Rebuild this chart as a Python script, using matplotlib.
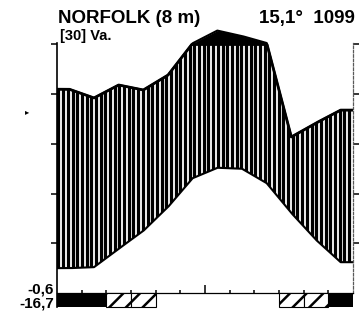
"""
Walter-Lieth Klimadiagramm: Norfolk (8 m)
"""
import numpy as np
import matplotlib
matplotlib.use('Agg')
import matplotlib.pyplot as plt

plt.rcParams['font.family'] = ['Liberation Sans', 'DejaVu Sans']
plt.rcParams['hatch.linewidth'] = 1.8

# 站点信息
station = 'NORFOLK (8 m)'
header_right = '15,1°  1099'
years_label = '[30] Va.'
low_labels = ['-0,6', '-16,7']

# 月均温 (°C) 和月降水 (mm)
months = ['J', 'F', 'M', 'A', 'M', 'J', 'J', 'A', 'S', 'O', 'N', 'D']
temp = [5.0, 5.2, 8.9, 12.5, 17.3, 23.1, 25.2, 25.0, 22.1, 16.1, 10.7, 6.2]
precip = [82, 78.5, 83.7, 81.7, 87.7, 105, 156, 134, 106, 62.8, 68.4, 73.6]

# 霜冻月份: 1 = 平均最低温 < 0, 可能霜冻 = 绝对最低温 < 0
frost_sure = [1, 1, 0, 0, 0, 0, 0, 0, 0, 0, 0, 1]
frost_possible = [0, 0, 1, 1, 0, 0, 0, 0, 0, 1, 1, 0]

W, H = 362, 317
fig = plt.figure(figsize=(W / 100, H / 100), dpi=100)

# 轴位置 (像素换算)
ymin, ymax = -7, 110
px_per_unit = 2.485
zero_px = 293
bottom_px = zero_px - ymin * px_per_unit
ax = fig.add_axes([57 / W, (H - bottom_px) / H, 296 / W, (ymax - ymin) * px_per_unit / H])
ax.set_xlim(0, 12)
ax.set_ylim(ymin, ymax)


def compress(p):
    p = np.asarray(p, dtype=float)
    return np.where(p > 100, 100 + (p - 100) / 10, p)


# 曲线延伸到边缘
xc = np.arange(12) + 0.5
xp = np.r_[0, xc, 12]
tp = 2 * np.r_[temp[0], temp, temp[-1]]
pp = compress(np.r_[precip[0], precip, precip[-1]])

xs = np.linspace(0, 12, 1201)
t_line = np.interp(xs, xp, tp)
p_line = np.interp(xs, xp, pp)
p_clip = np.minimum(p_line, 100)

# 湿润期: 竖线阴影
humid = ax.fill_between(xs, t_line, p_clip, facecolor='white', edgecolor='none', lw=0, zorder=1)
clip_path = humid.get_paths()[0]
hx = np.arange(0.06, 12, 0.19)
stripes = ax.vlines(hx, -1, 101, colors='black', lw=2.3, zorder=1.5)
stripes.set_clip_path(clip_path, ax.transData)

# > 100 mm: 黑色
ax.fill_between(xs, 100, p_line, where=p_line >= 100, interpolate=True,
                color='black', lw=0, zorder=1.6)

ax.plot(xs, p_line, color='black', lw=1.5, zorder=2)
ax.plot(xs, p_clip, color='black', lw=2.0, zorder=2)
ax.plot(xs, t_line, color='black', lw=1.5, zorder=2)

# 霜冻条
bar_h = 5.6
sure = np.array(frost_sure) == 1
poss = np.array(frost_possible) == 1
ax.bar(xc[sure], -bar_h, bottom=0, width=1.0, color='black', lw=0, zorder=3)
ax.bar(xc[poss], -bar_h, bottom=0, width=1.0, facecolor='white', edgecolor='black',
       hatch='//', lw=0.8, zorder=3)

# 坐标轴
ax.spines['top'].set_visible(False)
ax.spines['left'].set_bounds(-bar_h, 100.6)
ax.spines['left'].set_linewidth(1.2)
ax.spines['right'].set_bounds(0, 100.6)
ax.spines['right'].set_color('0.35')
ax.spines['right'].set_linewidth(0.9)
ax.spines['right'].set_linestyle((0, (2, 1.5)))
ax.spines['bottom'].set_position(('data', 0))
ax.spines['bottom'].set_bounds(0, 12)
ax.spines['bottom'].set_linewidth(0.9)

ax.set_yticks([20, 40, 60, 80, 100])
ax.yaxis.set_ticks_position('both')
ax.tick_params(axis='y', direction='out', length=4, width=1.1,
               labelleft=False, labelright=False)
ax.set_xticks([6])
ax.set_xticks([1, 2, 3, 4, 5, 7, 8, 9, 10, 11], minor=True)
ax.tick_params(axis='x', which='major', direction='in', length=6, width=1.1, labelbottom=False)
ax.tick_params(axis='x', which='minor', direction='in', length=2.5, width=1.1)

# 文字
fig.text(58 / W, 1 - 23 / H, station, fontsize=13.5, fontweight='bold',
         va='baseline', ha='left')
fig.text(355 / W, 1 - 23 / H, header_right, fontsize=13.5, fontweight='bold',
         va='baseline', ha='right')
fig.text(60 / W, 1 - 40 / H, years_label, fontsize=10.5, fontweight='bold', va='baseline')
fig.text(54 / W, 1 - 294 / H, low_labels[0], fontsize=11, fontweight='bold',
         va='baseline', ha='right')
fig.text(54 / W, 1 - 307.5 / H, low_labels[1], fontsize=11, fontweight='bold',
         va='baseline', ha='right')
fig.text(27 / W, 1 - 112 / H, '▸', fontsize=6, ha='center', va='center',
         family='DejaVu Sans')

fig.savefig('out.png', dpi=100)
plt.close(fig)
